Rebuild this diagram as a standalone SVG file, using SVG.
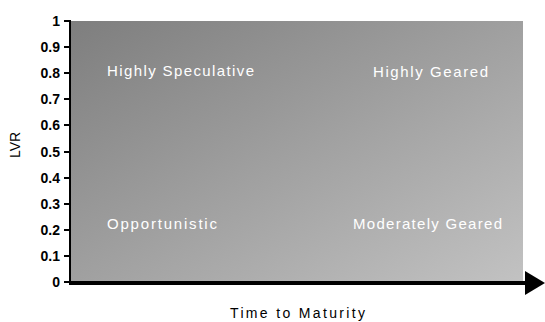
<svg xmlns="http://www.w3.org/2000/svg" width="545" height="322" viewBox="0 0 545 322">
<style>
.tick{font-family:"Liberation Sans",Arial,sans-serif;font-size:14px;font-weight:bold;fill:#000;text-anchor:end}
.q{font-family:"Liberation Sans",Arial,sans-serif;font-size:15px;fill:#fff}
.ax{font-family:"Liberation Sans",Arial,sans-serif;font-size:14px;fill:#000}
</style>
<defs>
<linearGradient id="bg" x1="0" y1="0" x2="1" y2="1">
<stop offset="0" stop-color="#7e7e7e"/>
<stop offset="1" stop-color="#c2c2c2"/>
</linearGradient>
</defs>
<rect id="plot" x="70" y="21" width="453" height="261" fill="url(#bg)"/>
<g id="connectors">
<line x1="70" y1="20" x2="70" y2="283" stroke="#000" stroke-width="2"/>
<line x1="69" y1="283" x2="528" y2="283" stroke="#000" stroke-width="4"/>
<polygon points="525,271 545,283 525,295" fill="#000"/>
<g stroke="#000" stroke-width="2">
<line x1="64" y1="21" x2="70" y2="21"/>
<line x1="64" y1="47" x2="70" y2="47"/>
<line x1="64" y1="73" x2="70" y2="73"/>
<line x1="64" y1="99" x2="70" y2="99"/>
<line x1="64" y1="125" x2="70" y2="125"/>
<line x1="64" y1="152" x2="70" y2="152"/>
<line x1="64" y1="178" x2="70" y2="178"/>
<line x1="64" y1="204" x2="70" y2="204"/>
<line x1="64" y1="230" x2="70" y2="230"/>
<line x1="64" y1="256" x2="70" y2="256"/>
<line x1="64" y1="282" x2="70" y2="282"/>
</g>
</g>
<g id="yticks">
<text class="tick" x="60" y="26">1</text>
<text class="tick" x="60" y="52">0.9</text>
<text class="tick" x="60" y="78">0.8</text>
<text class="tick" x="60" y="104">0.7</text>
<text class="tick" x="60" y="130">0.6</text>
<text class="tick" x="60" y="157">0.5</text>
<text class="tick" x="60" y="183">0.4</text>
<text class="tick" x="60" y="209">0.3</text>
<text class="tick" x="60" y="235">0.2</text>
<text class="tick" x="60" y="261">0.1</text>
<text class="tick" x="60" y="287">0</text>
</g>
<g id="ylabel"><text class="ax" transform="translate(20,145) rotate(-90)" text-anchor="middle">LVR</text></g>
<g id="xlabel"><text class="ax" x="230" y="318" textLength="135" lengthAdjust="spacing">Time to Maturity</text></g>
<g id="q1"><text class="q" x="107" y="76" textLength="147" lengthAdjust="spacing">Highly Speculative</text></g>
<g id="q2"><text class="q" x="373" y="77" textLength="115" lengthAdjust="spacing">Highly Geared</text></g>
<g id="q3"><text class="q" x="107" y="229" textLength="110" lengthAdjust="spacing">Opportunistic</text></g>
<g id="q4"><text class="q" x="353" y="229" textLength="149" lengthAdjust="spacing">Moderately Geared</text></g>
</svg>
